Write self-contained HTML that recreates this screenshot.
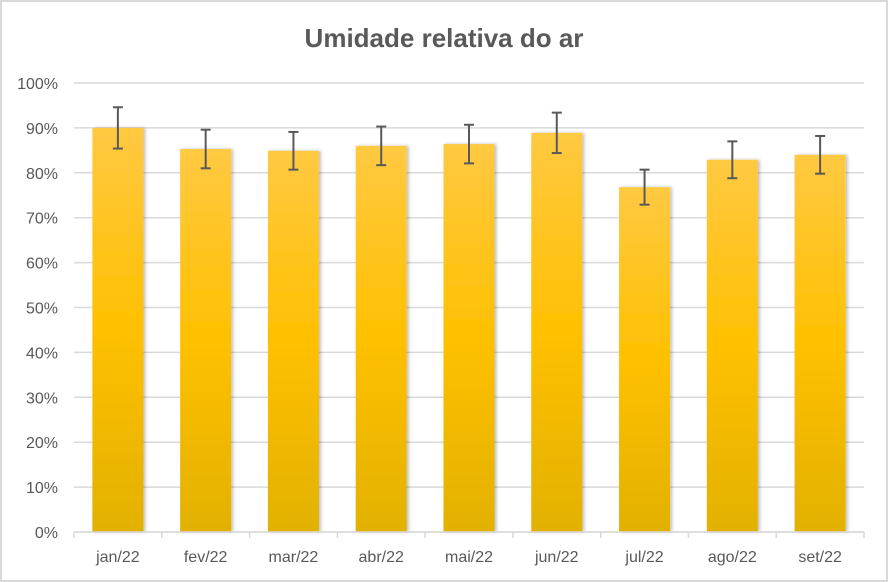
<!DOCTYPE html>
<html><head><meta charset="utf-8"><style>
html,body{margin:0;padding:0;background:#fff}
svg{display:block;font-family:"Liberation Sans",Calibri,sans-serif}
</style></head><body>
<svg id="chart" width="888" height="582" viewBox="0 0 888 582">
<defs>
<linearGradient id="g" x1="0" y1="0" x2="0" y2="1">
<stop offset="0" stop-color="#ffc942"/>
<stop offset="0.5" stop-color="#ffc000"/>
<stop offset="1" stop-color="#e2b100"/>
</linearGradient>
<filter id="sh" x="-20%" y="-5%" width="140%" height="110%"><feDropShadow dx="2" dy="0" stdDeviation="1.5" flood-color="#000" flood-opacity="0.25"/></filter>
</defs>
<rect x="1" y="1" width="886" height="580" fill="#fff" stroke="#d9d9d9" stroke-width="2"/>
<text x="444" y="47" text-anchor="middle" font-size="26" font-weight="bold" fill="#595959">Umidade relativa do ar</text>
<g id="grid"></g><g id="bars"></g><g id="axes"></g>
</svg>
<script>
const categories=["jan/22","fev/22","mar/22","abr/22","mai/22","jun/22","jul/22","ago/22","set/22"];
const values=[90.0,85.3,84.9,86.0,86.4,88.9,76.8,82.9,84.0];
const errors=[4.6,4.3,4.2,4.3,4.3,4.5,3.9,4.1,4.2];
const yTicks=[0,10,20,30,40,50,60,70,80,90,100];
const NS="http://www.w3.org/2000/svg";
const X0=74,X1=864,Y0=532,Y1=83;
const bw=(X1-X0)/categories.length;
const y=v=>Y0-(v/100)*(Y0-Y1);
const xc=i=>X0+bw*(i+0.5);
function mk(t,a,p){const e=document.createElementNS(NS,t);for(const k in a)e.setAttribute(k,a[k]);p.appendChild(e);return e;}
const grid=document.getElementById('grid'),bars=document.getElementById('bars'),axes=document.getElementById('axes');
yTicks.forEach(v=>{
  const l=mk('line',{x1:X0,x2:X1,y1:y(v),y2:y(v),stroke:'#d9d9d9','stroke-width':1.5},grid);
  
  
  const t=mk('text',{x:58,y:y(v)+6,'text-anchor':'end','font-size':16,fill:'#595959'},axes);
  t.textContent=v+'%';
  
  
});
categories.forEach((c,i)=>{
  const w=51;
  const r=mk('rect',{x:xc(i)-w/2,y:y(values[i]),width:w,height:Y0-y(values[i]),fill:'url(#g)',filter:'url(#sh)'},bars);
  
  
  const hi=y(values[i]+errors[i]),lo=y(values[i]-errors[i]);
  const eg=mk('g',{stroke:'#595959','stroke-width':2},bars);
  
  
  mk('line',{x1:xc(i),x2:xc(i),y1:hi,y2:lo},eg);
  mk('line',{x1:xc(i)-5,x2:xc(i)+5,y1:hi,y2:hi},eg);
  mk('line',{x1:xc(i)-5,x2:xc(i)+5,y1:lo,y2:lo},eg);
  const t=mk('text',{x:xc(i),y:562,'text-anchor':'middle','font-size':16,fill:'#595959'},axes);
  t.textContent=c;
  
  
});
const ax=mk('line',{x1:X0,x2:X1,y1:Y0,y2:Y0,stroke:'#d9d9d9','stroke-width':1.5},axes);


for(let i=0;i<=categories.length;i++){
  const tk=mk('line',{x1:X0+bw*i,x2:X0+bw*i,y1:Y0,y2:Y0+6,stroke:'#d9d9d9','stroke-width':1.5},axes);
  
  
}
</script>
</body></html>
